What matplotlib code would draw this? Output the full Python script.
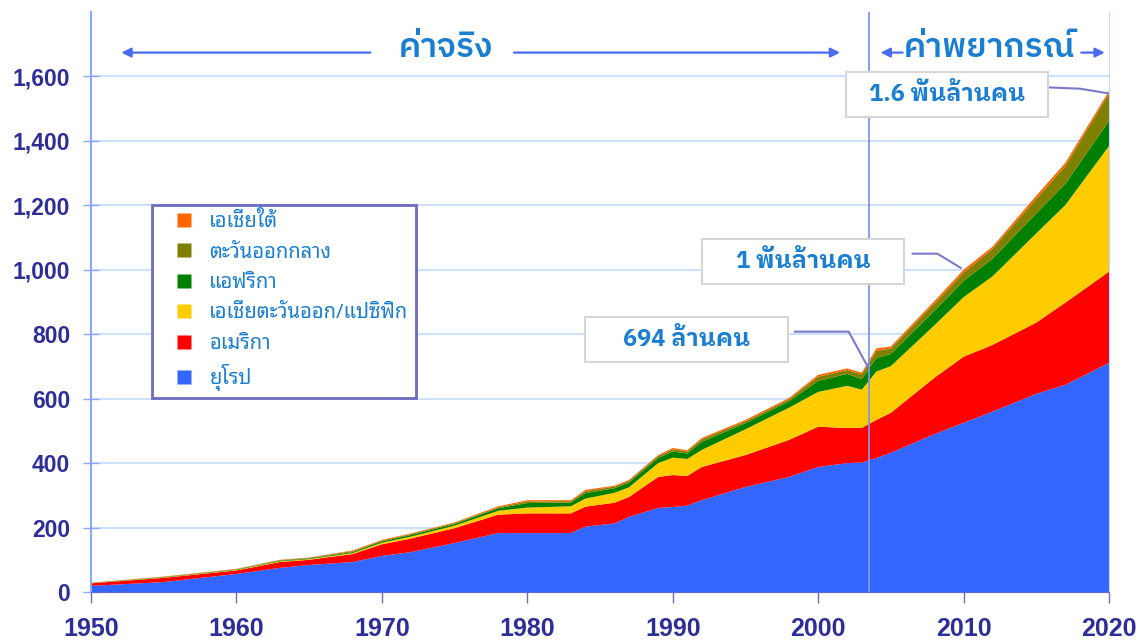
import numpy as np
import matplotlib
matplotlib.use('Agg')
import matplotlib.pyplot as plt
from matplotlib.lines import Line2D
from matplotlib.patches import Rectangle

# values (millions of people, per region)
years = [1950, 1955, 1960, 1963, 1965, 1968, 1970, 1972, 1975, 1978, 1980, 1983,
         1984, 1986, 1987, 1989, 1990, 1991, 1992, 1995, 1998, 2000, 2002, 2003,
         2004, 2005, 2008, 2010, 2012, 2015, 2017, 2020]
europe = [19, 31, 56, 75, 84, 93, 112, 124, 152, 183, 183, 183,
          203, 213, 233, 261, 264, 268, 285, 326, 357, 388, 400, 402,
          416, 432, 490, 525, 560, 615, 643, 711]
america = [8, 13, 11, 18, 16, 25, 36, 42, 46, 57, 61, 61,
           62, 64, 62, 96, 99, 92, 103, 99, 115, 125, 109, 107,
           118, 124, 175, 205, 207, 221, 255, 283]
east_asia = [0.5, 1, 1.5, 2, 2, 3, 5, 6, 8, 12, 18, 22,
             25, 31, 30, 43, 54, 53, 53, 80, 100, 108, 131, 119,
             150, 145, 163, 185, 213, 277, 303, 390]
africa = [0.5, 1, 1.5, 2, 2, 3, 4, 5, 5, 8, 14, 12,
          17, 14, 15, 16, 19, 17, 25, 19, 20, 34, 37, 33,
          42, 38, 45, 50, 55, 62, 66, 78]
middle_east = [0.5, 1, 1, 2, 2, 3, 3, 3, 3, 3, 5, 4,
               6, 5, 5, 6, 7, 6, 8, 6, 6, 13, 12, 15,
               22, 17, 22, 26, 30, 45, 55, 85]
south_asia = [0.5, 1, 1, 1, 1, 2, 2, 2, 2, 3, 4, 3,
              4, 3, 3, 3, 4, 4, 4, 4, 4, 6, 5, 5,
              8, 6, 8, 9, 7, 10, 10, 8]

labels = ['ยุโรป', 'อเมริกา', 'เอเชียตะวันออก/แปซิฟิก', 'แอฟริกา', 'ตะวันออกกลาง', 'เอเชียใต้']
colors = ['#3366ff', '#ff0000', '#ffcc00', '#008000', '#808000', '#ff6600']

split_year = 2003.5
tick_color = '#2e2e99'
text_blue = '#1a7fd2'
thai = ['Noto Sans Thai Looped', 'DejaVu Sans']
thai_bold = ['IBM Plex Sans Thai Looped', 'Noto Sans Thai Looped', 'DejaVu Sans']
thai_head = ['IBM Plex Sans Thai', 'Noto Sans Thai', 'DejaVu Sans']


def main():
    fig = plt.figure(figsize=(11.4, 6.41), dpi=100)
    ax = fig.add_axes([0.0798, 0.0764, 0.8930, 0.9049])

    ax.stackplot(years, europe, america, east_asia, africa, middle_east, south_asia,
                 colors=colors, labels=labels, linewidth=0, zorder=2)

    ax.set_xlim(1950, 2020)
    ax.set_ylim(0, 1800)
    ax.set_xticks(range(1950, 2021, 10))
    ax.set_yticks(range(0, 1601, 200))
    ax.set_yticklabels(['{:,}'.format(v) for v in range(0, 1601, 200)])
    ax.grid(axis='y', color='#cfe0ff', linewidth=1.5, zorder=0)
    ax.set_axisbelow(True)

    ax.spines['top'].set_visible(False)
    ax.spines['left'].set_color('#8aa8ff')
    ax.spines['left'].set_linewidth(1.5)
    ax.spines['right'].set_color('#c8d6ff')
    ax.spines['bottom'].set_color('#5a6ad8')

    ax.tick_params(axis='y', direction='inout', length=12, width=1, color='#8aa8ff',
                   pad=9, labelcolor=tick_color)
    ax.tick_params(axis='x', direction='out', length=8, width=1, color='#7070b0',
                   pad=10, labelcolor=tick_color)
    for lab in ax.get_yticklabels():
        lab.set_fontfamily('Liberation Sans')
        lab.set_fontweight('bold')
        lab.set_fontsize(16.5)
    for lab in ax.get_xticklabels():
        lab.set_fontfamily(['Liberation Sans Narrow', 'Liberation Sans'])
        lab.set_fontweight('bold')
        lab.set_fontsize(18)

    # split between actual and forecast
    ax.axvline(split_year, color='#7f95f0', linewidth=1.3, zorder=3)

    # header arrows
    arr = dict(arrowstyle='-|>', color='#4a6cf0', lw=1.6, mutation_scale=14)
    y_arrow = 1674
    ax.annotate('', xy=(1951.9, y_arrow), xytext=(1969.4, y_arrow), arrowprops=arr)
    ax.annotate('', xy=(2001.7, y_arrow), xytext=(1978.9, y_arrow), arrowprops=arr)
    ax.annotate('', xy=(2004.1, y_arrow), xytext=(2006.0, y_arrow), arrowprops=arr)
    ax.annotate('', xy=(2019.9, y_arrow), xytext=(2017.9, y_arrow), arrowprops=arr)
    ax.text(1974.4, 1660, 'ค่าจริง', color=text_blue, fontsize=24, ha='center',
            va='baseline', family=thai_head, fontweight='semibold')
    ax.text(2011.8, 1660, 'ค่าพยากรณ์', color=text_blue, fontsize=24, ha='center',
            va='baseline', family=thai_head, fontweight='semibold')

    # callout boxes with leader lines
    callouts = [
        ('1.6 พันล้านคน', 2001.9, 1475, [(2015.8, 1566), (2018.0, 1562), (2019.9, 1548)]),
        ('1 พันล้านคน', 1992.0, 956, [(2006.5, 1050), (2008.2, 1050), (2009.8, 1006)]),
        ('694 ล้านคน', 1984.0, 713, [(1998.4, 808), (2002.1, 808), (2003.45, 696)]),
    ]
    for txt, x0, y0, pts in callouts:
        ax.add_patch(Rectangle((x0, y0), 13.9, 140, facecolor='white', edgecolor='#d6d6d6',
                               linewidth=1.5, zorder=5))
        ax.text(x0 + 6.95, y0 + 70, txt, color=text_blue, fontsize=17, fontweight='bold',
                ha='center', va='center', family=thai_bold, zorder=6)
        xs, ys = zip(*pts)
        ax.plot(xs, ys, color='#7a7ac8', linewidth=1.5, zorder=4)

    # legend, top entry is the top layer
    handles = [Line2D([], [], linestyle='none', marker='s', markersize=10,
                      markerfacecolor=c, markeredgecolor='none') for c in colors][::-1]
    leg = ax.legend(handles, labels[::-1], loc='upper left',
                    bbox_to_anchor=(0.1333, 0.6802), bbox_transform=fig.transFigure,
                    frameon=True, fancybox=False, framealpha=1, borderaxespad=0,
                    handlelength=2.5, handletextpad=0.0,
                    labelspacing=0.52, borderpad=0.35,
                    prop={'family': thai, 'size': 14.5})
    leg.get_frame().set_edgecolor('#6c6cc0')
    leg.get_frame().set_linewidth(2)
    for t in leg.get_texts():
        t.set_color(text_blue)
    leg.set_zorder(7)

    fig.savefig('out.png', dpi=100)


if __name__ == "__main__":
    main()
